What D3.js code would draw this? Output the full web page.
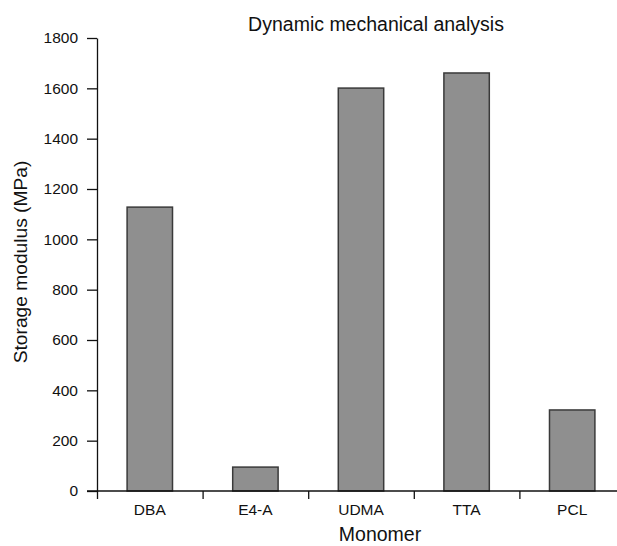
<!DOCTYPE html>
<html lang="en">
<head>
    <meta charset="UTF-8">
    <title>Dynamic mechanical analysis</title>
    <script src="https://d3js.org/d3.v7.min.js"></script>
    <style>
        body { margin: 0; background: #fff; }
        svg { font-family: "Liberation Sans", Arial, Helvetica, sans-serif; }
    </style>
</head>
<body>
<svg id="chart" width="617" height="546"></svg>

<script>
    const monomers = ["DBA", "E4-A", "UDMA", "TTA", "PCL"];
    const storageModulus = [1128, 95, 1601, 1661, 322];
    const yTicks = [0, 200, 400, 600, 800, 1000, 1200, 1400, 1600, 1800];

    const svg = d3.select("#chart");

    const plotLeft = 97, plotRight = 625, plotTop = 38, plotBottom = 491;

    const x = d3.scaleBand()
        .domain(monomers)
        .range([plotLeft, plotRight])
        .paddingInner(0.57)
        .paddingOuter(0.285);

    // band boundaries for the tick marks
    const xEdge = d3.scaleLinear()
        .domain([0, monomers.length])
        .range([plotLeft, plotRight]);

    const y = d3.scaleLinear()
        .domain([0, 1800])
        .range([plotBottom, plotTop]);

    // bars
    svg.append("g")
        .selectAll("rect")
        .data(monomers)
        .enter().append("rect")
        .attr("x", d => x(d))
        .attr("y", (d, i) => y(storageModulus[i]))
        .attr("width", x.bandwidth())
        .attr("height", (d, i) => y(0) - y(storageModulus[i]))
        .attr("fill", "#8f8f8f")
        .attr("stroke", "#3a3a3a")
        .attr("stroke-width", 1.5);

    // y axis
    const yAxis = svg.append("g")
        .attr("transform", `translate(${plotLeft},0)`)
        .call(d3.axisLeft(y).tickValues(yTicks).tickFormat(d3.format("d"))
            .tickSize(10).tickSizeOuter(0).tickPadding(9));
    yAxis.attr("font-family", null).attr("font-size", 15.5);
    yAxis.selectAll("text").attr("fill", "#111");
    yAxis.selectAll("line, path").attr("stroke", "#111").attr("stroke-width", 1.3);

    // x axis line and boundary ticks
    svg.append("line")
        .attr("x1", plotLeft - 10).attr("x2", 617)
        .attr("y1", plotBottom).attr("y2", plotBottom)
        .attr("stroke", "#111").attr("stroke-width", 1.3);

    const xTicks = svg.append("g")
        .attr("transform", `translate(0,${plotBottom})`)
        .call(d3.axisBottom(xEdge).tickValues(d3.range(monomers.length + 1)).tickFormat("").tickSize(8).tickSizeOuter(0));
    xTicks.select(".domain").remove();
    xTicks.selectAll("line").attr("stroke", "#111").attr("stroke-width", 1.3);

    const xLabels = svg.append("g")
        .attr("transform", `translate(0,${plotBottom})`)
        .call(d3.axisBottom(x).tickSize(0).tickPadding(13));
    xLabels.select(".domain").remove();
    xLabels.attr("font-family", null).attr("font-size", 15.5);
    xLabels.selectAll("text").attr("fill", "#111");

    // titles
    svg.append("text")
        .attr("x", 376).attr("y", 31)
        .attr("text-anchor", "middle")
        .attr("font-size", 19.5)
        .attr("fill", "#111")
        .text("Dynamic mechanical analysis");

    svg.append("text")
        .attr("x", 380).attr("y", 541)
        .attr("text-anchor", "middle")
        .attr("font-size", 19.5)
        .attr("fill", "#111")
        .text("Monomer");

    svg.append("text")
        .attr("transform", "translate(27,262) rotate(-90)")
        .attr("text-anchor", "middle")
        .attr("font-size", 19.2)
        .attr("fill", "#111")
        .text("Storage modulus (MPa)");
</script>
</body>
</html>
